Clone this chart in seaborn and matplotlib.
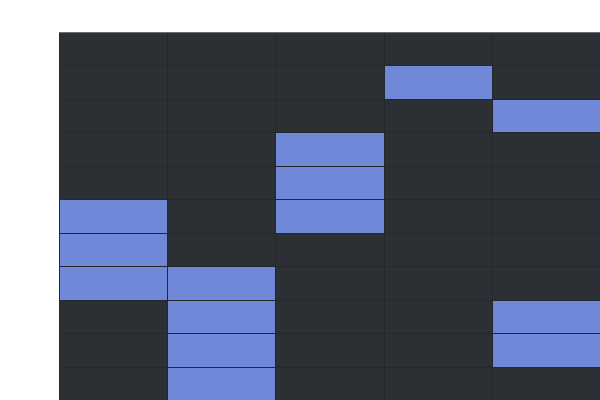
import matplotlib
matplotlib.use("Agg")
import matplotlib.pyplot as plt
import seaborn as sns
import pandas as pd
from matplotlib.colors import ListedColormap

columns = ["c1", "c2", "c3", "c4", "c5"]
rows = ["r1", "r2", "r3", "r4", "r5", "r6", "r7", "r8", "r9", "r10", "r11"]
values = [
    [0, 0, 0, 0, 0],
    [0, 0, 0, 1, 0],
    [0, 0, 0, 0, 1],
    [0, 0, 1, 0, 0],
    [0, 0, 1, 0, 0],
    [1, 0, 1, 0, 0],
    [1, 0, 0, 0, 0],
    [1, 1, 0, 0, 0],
    [0, 1, 0, 0, 1],
    [0, 1, 0, 0, 1],
    [0, 1, 0, 0, 0],
]

df = pd.DataFrame(values, index=rows, columns=columns)

fig = plt.figure(figsize=(6, 4), dpi=100)
ax = fig.add_axes([59 / 600, 0, 541 / 600, 368 / 400])
cmap = ListedColormap(["#2c2f33", "#7088d8"])
sns.heatmap(df, cmap=cmap, vmin=0, vmax=1, cbar=False, linewidths=0.6,
            linecolor="#24272b", xticklabels=False, yticklabels=False, ax=ax)
ax.set_xlabel("")
ax.set_ylabel("")
ax.axhline(0, color="#6b6e73", linewidth=1.5)
fig.savefig("out.png", dpi=100)
